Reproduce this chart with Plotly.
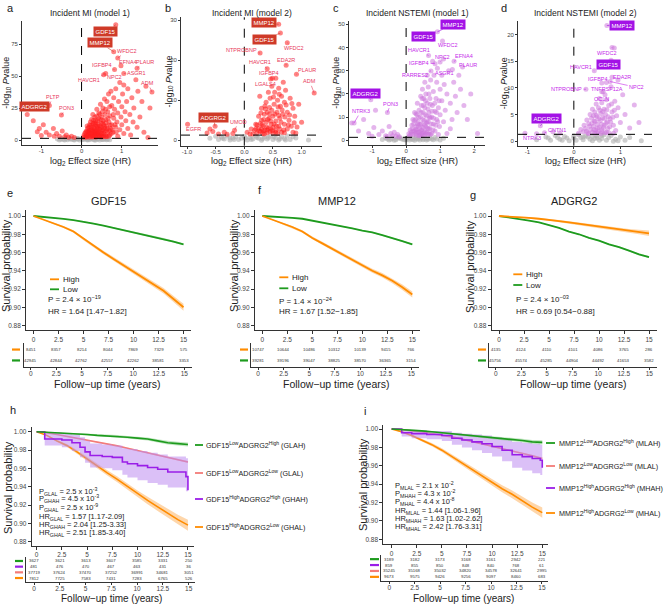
import plotly.graph_objects as go

FONT = "Liberation Sans, Arial, sans-serif"
W, H = 669, 604

# ======================= DATA =======================
# ---- Volcano a: Incident MI (model 1) ----
a_sig = [(0.05,2.2),(0.06,3.5),(0.08,5),(0.1,2.5),(0.12,4),(0.15,3),(0.15,9),(0.18,6),(0.2,2.2),(0.2,12),(0.22,8),(0.25,5),(0.25,16),(0.27,3.5),(0.28,20),(0.3,10),(0.3,2.8),(0.32,7),(0.33,18),(0.35,4.5),(0.35,12),(0.38,3),(0.38,24),(0.4,9),(0.4,15),(0.42,6),(0.43,21),(0.45,2.5),(0.45,11),(0.47,28),(0.48,4),(0.5,7),(0.5,18),(0.52,13),(0.53,25),(0.55,5),(0.55,3),(0.57,32),(0.58,9),(0.6,16),(0.6,2.5),(0.62,11),(0.63,30),(0.65,6),(0.65,22),(0.67,36),(0.68,14),(0.7,4),(0.7,19),(0.72,9),(0.73,38),(0.75,27),(0.75,12),(0.78,6),(0.8,17),(0.8,33),(0.82,24),(0.85,10),(0.85,40),(0.88,14),(0.9,21),(0.9,3),(0.92,30),(0.95,8),(0.95,45),(0.98,18),(1.0,26),(1.0,12),(1.02,36),(1.05,5),(1.05,43),(1.08,22),(1.1,15),(1.12,30),(1.15,9),(1.15,40),(1.2,20),(1.22,4),(1.25,33),(1.28,14),(1.3,25),(1.35,47),(1.38,10),(1.4,38),(1.45,18),(1.5,30),(1.55,6),(1.6,42),(1.65,2),(1.7,25),(0.15,6.5),(0.2,4.5),(0.25,10),(0.28,7),(0.3,13),(0.33,5.5),(0.37,8),(0.42,3.8),(0.45,8.5),(0.5,10),(0.5,2.3),(0.55,12),(0.35,2.1),(0.4,4.8),(0.62,7.5),(0.68,3),(0.27,2.4),(0.18,10),(0.12,7),(0.58,20),(0.48,16),(0.38,18.5),(0.3,15.5),(0.22,14),
         (0.1,6),(0.12,2.2),(0.14,11),(0.17,3.8),(0.19,7.5),(0.21,5.5),(0.23,2.9),(0.24,11.5),(0.26,8.5),(0.29,4.3),(0.31,5.8),(0.32,9),(0.34,13.5),(0.36,6.8),(0.37,10.5),(0.39,5.2),(0.41,7),(0.41,12.5),(0.43,16.5),(0.44,3.2),(0.46,5.8),(0.47,9.5),(0.49,13),(0.51,2.9),(0.51,5),(0.53,8),(0.54,15),(0.56,6.8),(0.57,10.5),(0.59,4.2),(0.61,13.5),(0.63,2.8),(0.64,9),(0.66,17),(0.69,7.5),(0.71,11.5),(0.74,5),(0.76,8),(0.79,20),(0.83,12),(0.86,6),(0.6,24),(0.7,26),(0.45,20),(0.52,22),(0.35,15),(0.28,12.5),(0.4,11),(0.25,7),(0.33,3.2),
         (-1.35,20),(-1.2,15),(-1.1,6.5),(-1.05,9),(-1.0,3.5),(-0.95,12),(-0.88,6),(-0.8,4),(-0.7,9),(-0.68,3),(-0.62,5),(-0.55,3),(-0.48,7),(-0.42,2.5),(-0.38,4),(-0.32,2.2),(-0.25,3),(-0.18,2)]
a_ns = [(-0.6,0.8),(-0.5,1.1),(-0.45,0.4),(-0.4,0.9),(-0.35,0.2),(-0.3,1.2),(-0.25,0.6),(-0.2,0.3),(-0.15,1.0),(-0.1,0.5),(-0.05,0.1),(0,0.7),(0.05,0.3),(0.1,1.1),(0.15,0.5),(0.2,0.2),(0.25,0.9),(0.3,0.4),(0.35,1.2),(0.4,0.6),(0.45,0.1),(0.5,0.8),(0.55,0.3),(0.6,1.0),(0.65,0.5),(-0.55,0.1),(0.7,0.2),(-0.1,1.2),(0.15,0.05),(0.35,0.05),
        (-0.52,0.5),(-0.42,0.1),(-0.28,0.8),(-0.18,0.0),(-0.08,0.9),(0.02,0.3),(0.12,0.6),(0.22,1.0),(0.32,0.1),(0.42,0.9),(0.52,0.4),(0.62,0.2)]
a_lab = [("GDF15",0.85,90),("MMP12",0.8,69),("WFDC2",0.9,64),("EFNA4",0.98,58),("PLAUR",1.38,56),("ASGR1",1.05,52),("ADM",1.75,37.5),("IGFBP4",0.82,55),("NPC2",0.6,52),("HAVCR1",0.55,51),("ADGRG2",-0.88,25),("PLTP",-0.8,27),("PON3",-0.5,19.5)]

# ---- Volcano b: Incident MI (model 2) ----
b_sig = [(0.15,1.6),(0.18,2.5),(0.2,4),(0.22,1.8),(0.25,3),(0.25,6),(0.28,2.2),(0.3,5),(0.3,8),(0.32,1.7),(0.33,3.5),(0.35,6.5),(0.36,2.5),(0.38,4.5),(0.38,9.5),(0.4,1.9),(0.4,7),(0.42,3),(0.43,5.5),(0.45,2.2),(0.45,10.5),(0.47,4),(0.48,7.5),(0.5,1.8),(0.5,3.2),(0.5,6),(0.52,9),(0.53,12),(0.55,2.5),(0.55,4.8),(0.57,7),(0.58,10),(0.6,3.5),(0.6,13),(0.62,5.5),(0.63,8.5),(0.65,2),(0.65,11),(0.67,6.5),(0.7,4),(0.7,9.5),(0.72,12.5),(0.75,2.8),(0.75,7),(0.78,5),(0.8,10.5),(0.82,3.5),(0.85,8),(0.88,6),(0.9,1.8),(0.95,9),(1.0,4.5),(0.12,2.8),(0.1,1.6),(0.05,2),(0.27,11),(0.42,12),(0.35,1.6),(0.58,1.7),(0.68,14.5),(0.55,15.5),(0.48,13.5),(0.85,2),(0.92,3.3),(0.2,2.9),(0.28,4.2),(0.33,2.4),(0.37,7.8),(0.44,6.6),(0.52,4.1),(0.6,6.2),(0.46,2.8),
         (0.22,3.8),(0.26,2.3),(0.29,6.8),(0.31,3.9),(0.34,5.2),(0.36,8.6),(0.39,3.3),(0.41,5.2),(0.44,8.2),(0.46,4.8),(0.49,2.4),(0.51,10.8),(0.53,6.6),(0.56,3.6),(0.59,8.3),(0.61,11.5),(0.64,4.5),(0.66,7.6),(0.69,2.6),(0.71,5.8),(0.73,8.8),(0.77,3.8),(0.79,6.3),(0.83,9.2),(0.87,4.4),(0.4,2.6),(0.3,2.8),(0.55,2),(0.62,2.8),(0.7,1.9),
         (-0.65,1.8),(-0.55,2.2),(-0.45,1.6),(-0.35,2.0),(-0.3,1.5),(-0.6,2.8),(-0.2,1.7)]
b_ns = [(-0.6,0.5),(-0.5,1.0),(-0.45,0.2),(-0.4,0.8),(-0.35,0.3),(-0.3,1.1),(-0.25,0.1),(-0.2,0.6),(-0.15,0.9),(-0.1,0.2),(-0.05,0.5),(0,1.0),(0.05,0.1),(0.1,0.7),(0.15,0.3),(0.2,1.1),(0.25,0.5),(0.3,0.0),(0.35,0.8),(0.4,0.3),(0.45,1.0),(0.5,0.2),(0.55,0.6),(0.6,0.1),(0.65,0.9),(0.7,0.4),(0.8,0.2),(0.9,0.6),(1.12,0.1),(-0.25,0.6),(0.75,1.1),
        (-0.38,0.5),(-0.18,0.2),(0.02,0.6),(0.12,0.2),(0.22,0.7),(0.32,0.4),(0.42,0.7),(0.52,0.9),(0.62,0.4),(0.72,0.1),(0.85,0.9)]
b_lab = [("MMP12",0.6,29),("GDF15",0.63,26.8),("WFDC2",0.75,24.4),("NTPROBNP",0.275,21.8),("HAVCR1",0.4,17.9),("EDA2R",0.73,18.75),("PLAUR",0.91,16.5),("IGFBP4",0.49,15.5),("ADM",1.22,11.8),("LGALS4",0.46,15.3),("ADGRG2",-0.51,3.5),("EGFR",-0.99,4.0),("UMOD",-0.17,2.5)]

# ---- Volcano c: Incident NSTEMI (model 1) ----
c_sig = [(0.1,2),(0.15,3.5),(0.18,5),(0.2,2.5),(0.22,7),(0.25,4),(0.28,9),(0.3,2.2),(0.3,6),(0.32,11),(0.35,3.5),(0.35,8),(0.38,13),(0.4,5),(0.4,2.5),(0.42,10),(0.45,7),(0.45,15),(0.47,3),(0.5,12),(0.5,5.5),(0.52,18),(0.53,8.5),(0.55,2.3),(0.55,14),(0.58,6),(0.58,20),(0.6,10.5),(0.6,3.5),(0.62,16),(0.65,8),(0.65,23),(0.67,12),(0.7,5),(0.7,18),(0.72,2.5),(0.72,26),(0.75,10),(0.77,15),(0.8,7),(0.8,21),(0.82,28),(0.85,12.5),(0.85,4),(0.88,18),(0.9,9),(0.9,25),(0.92,31),(0.95,14),(0.98,6),(1.0,22),(1.0,11),(1.05,17),(1.05,28),(1.1,8),(1.12,24),(1.15,13),(1.2,20),(1.2,3),(1.25,30),(1.3,16),(1.35,9),(1.4,25),(1.45,19),(1.5,12),(1.55,28),(1.6,22),(1.7,15),(1.8,9),(2.1,3),(1.9,20),(0.12,4.5),(0.25,12),(0.33,16),(0.43,19),(0.48,22),(0.55,25),(0.62,28),(0.08,2.8),(0.2,9),(0.38,2),(0.5,2.1),(0.68,3),(1.3,5),(0.95,2.5),(1.1,35),(0.78,34),(0.28,4.8),(0.36,6.2),(0.44,4.2),(0.52,3.4),(0.6,7.4),(0.7,9.6),(0.42,2.2),(0.63,5.2),
         (0.14,2.6),(0.17,6.5),(0.21,4),(0.24,8.5),(0.27,2.9),(0.29,11.5),(0.31,4.5),(0.34,7),(0.37,9.8),(0.39,3.6),(0.41,6.8),(0.44,12),(0.46,4.6),(0.49,9),(0.51,15),(0.54,6.5),(0.56,11),(0.59,3),(0.61,8),(0.64,13.5),(0.66,5),(0.69,10),(0.71,15.5),(0.74,7),(0.76,12.5),(0.79,4.5),(0.81,9.5),(0.84,16),(0.87,6.5),(0.89,12),(0.93,8),(0.97,17),(0.47,18),(0.57,17),(0.67,20),(0.3,3.5),(0.45,2.7),(0.55,4),(0.65,2.6),(0.75,3),
         (-1.6,7.5),(-1.4,4),(-1.25,9),(-1.1,3),(-0.95,5.5),(-0.8,2.5),(-0.7,4),(-0.6,2),(-0.5,6),(-0.45,3),(-0.4,2),(-0.35,3.5),(-0.3,1.8),(-0.25,2.5),(-0.2,1.6),(-0.55,1.7),(-1.0,1.8),(-0.9,13)]
c_ns = [(-0.7,0.4),(-0.6,1.0),(-0.5,0.2),(-0.4,0.8),(-0.3,0.3),(-0.2,1.1),(-0.1,0.5),(0,0.1),(0.1,0.9),(0.2,0.4),(0.3,1.2),(0.4,0.2),(0.5,0.7),(0.6,0.1),(0.7,1.0),(0.8,0.3),(0.9,0.6),(1.0,0.2),(1.1,0.9),(-0.55,0.6),(-0.35,0.05),(-0.15,0.7),(0.05,1.2),(0.25,0.0),(0.45,1.1),(0.65,0.5),(0.85,1.2),(-0.05,0.3),(0.15,0.6),(0.35,0.6),
        (-0.45,0.5),(-0.25,0.9),(0.0,0.8),(0.1,0.2),(0.2,1.0),(0.3,0.6),(0.4,0.9),(0.5,0.3),(0.6,0.8),(0.75,0.6)]
c_lab = [("MMP12",0.92,46.7),("GDF15",0.76,43.4),("WFDC2",1.07,42.8),("HAVCR1",0.66,36.5),("NPC2",1.0,33.7),("EFNA4",1.41,34),("IGFBP4",0.85,33),("PLAUR",1.66,31.6),("RARRES2",0.73,29.9),("ASGR1",1.36,30.5),("ADGRG2",-1.04,17.5),("NTRK3",-1.53,7.5),("PON3",-0.55,12)]

# ---- Volcano d: Incident NSTEMI (model 2) ----
d_sig = [(0.1,1.5),(0.15,2.2),(0.2,1.8),(0.22,3),(0.25,2.4),(0.28,4),(0.3,1.6),(0.32,3.3),(0.35,5),(0.36,2.2),(0.38,4.3),(0.4,1.7),(0.4,6),(0.42,2.8),(0.44,3.8),(0.45,5.5),(0.47,2.1),(0.48,7),(0.5,3.2),(0.5,4.6),(0.52,1.8),(0.53,6.3),(0.55,2.6),(0.55,8),(0.57,3.9),(0.58,5.2),(0.6,2.2),(0.6,7.2),(0.62,4.4),(0.63,9.3),(0.65,3),(0.65,6),(0.67,1.6),(0.68,5),(0.7,7.8),(0.72,3.6),(0.73,2.4),(0.75,6.7),(0.78,4.2),(0.8,10.2),(0.82,5.5),(0.85,3),(0.88,7.5),(0.9,2),(0.92,4.8),(0.95,6.3),(1.0,3.5),(1.05,8.7),(1.1,5),(1.2,2.5),(1.3,6.8),(1.4,3.5),(0.32,1.4),(0.45,1.5),(0.58,1.4),(0.75,1.6),(0.85,1.5),(0.7,11),(0.95,11.5),(0.87,17.5),
         (0.27,1.9),(0.34,2.8),(0.39,3.4),(0.43,2.2),(0.46,3.7),(0.51,2.5),(0.54,4.2),(0.56,5.8),(0.59,3.2),(0.62,5.6),(0.64,2.6),(0.66,4.2),(0.69,3.4),(0.71,5.9),(0.74,4.6),(0.77,2.7),(0.79,3.6),(0.81,7),(0.84,4.5),(0.87,5.8),(0.6,1.8),(0.5,1.6),(0.7,1.7),(0.48,4.9),(0.42,4.8),
         (-0.45,1.8),(-0.3,1.5),(-0.8,1.4)]
d_ns = [(-0.8,0.3),(-0.6,0.8),(-0.5,0.2),(-0.4,1.1),(-0.3,0.4),(-0.2,0.9),(-0.1,0.1),(0,0.6),(0.1,1.2),(0.2,0.3),(0.3,0.8),(0.4,0.1),(0.5,1.0),(0.6,0.5),(0.7,0.2),(0.8,1.1),(0.9,0.4),(1.0,0.8),(1.1,0.2),(1.2,0.7),(1.45,0.1),(-0.15,0.6),(0.05,0.2),(0.25,1.0),(0.45,0.5),(0.65,1.2),(0.85,0.0),(-0.35,0.7),(0.15,0.7),(0.55,0.2),
        (-0.55,0.6),(-0.25,0.2),(0.0,1.0),(0.2,0.8),(0.35,0.4),(0.5,0.6),(0.6,1.1),(0.75,0.7),(0.95,0.1),(0.4,0.9)]
d_lab = [("MMP12",0.71,21.7),("WFDC2",0.82,17.6),("GDF15",0.8,15.2),("HAVCR1",0.44,13.2),("EDA2R",0.82,12),("IGFBP4",0.6,10.9),("NPC2",0.78,11.2),("TNFRSF12A",0.6,9.3),("NTPROBNP",0.26,9.75),("OCLN",0.67,8.7),("ADGRG2",-0.72,2.9),("CNTN1",-0.63,1.6),("NTRK3",-1.05,1.5)]

# label text placement (layout only)
a_pos = {"GDF15":(0.6,85),"MMP12":(0.45,76),"WFDC2":(1.12,69.5),"EFNA4":(1.15,61),"PLAUR":(1.57,61),"ASGR1":(1.37,52),"ADM":(1.65,44.5),"IGFBP4":(0.5,58.6),"NPC2":(0.82,49.6),"HAVCR1":(0.18,47),"ADGRG2":(-1.18,26),"PLTP":(-0.72,33.6),"PON3":(-0.38,25)}
b_pos = {"MMP12":(0.35,29.4),"GDF15":(0.35,25.3),"WFDC2":(0.86,23),"NTPROBNP":(-0.05,22.7),"HAVCR1":(0.27,19.5),"EDA2R":(0.72,20.2),"PLAUR":(1.1,17.7),"IGFBP4":(0.43,16.8),"ADM":(1.14,14.75),"LGALS4":(0.37,14.2),"ADGRG2":(-0.54,5.7),"EGFR":(-0.89,2.9),"UMOD":(-0.1,4.6)}
c_pos = {"MMP12":(1.38,50),"GDF15":(0.5,44.8),"WFDC2":(1.22,41.2),"HAVCR1":(0.38,38.8),"NPC2":(1.07,35.9),"EFNA4":(1.7,36.3),"IGFBP4":(0.38,33.5),"PLAUR":(1.83,32.3),"RARRES2":(0.26,28.1),"ASGR1":(1.12,29),"ADGRG2":(-1.2,20.1),"NTRK3":(-1.33,12.6),"PON3":(-0.45,15.8)}
d_pos = {"MMP12":(1.03,21.7),"WFDC2":(0.71,16.6),"GDF15":(0.75,14.3),"HAVCR1":(0.16,14),"EDA2R":(1.03,12.1),"IGFBP4":(0.53,11.7),"NPC2":(1.35,10.1),"TNFRSF12A":(0.71,9.75),"NTPROBNP":(-0.15,9.75),"OCLN":(0.59,7.9),"ADGRG2":(-0.58,4.2),"CNTN1":(-0.37,2.1),"NTRK3":(-0.9,0.56)}
boxed = ["GDF15", "MMP12", "ADGRG2"]

# ---- Survival data ----
T = list(range(16))
e_high = [1,0.996,0.992,0.988,0.983,0.975,0.967,0.960,0.953,0.946,0.939,0.932,0.925,0.918,0.909,0.900]
e_high_ci = [0,0.0007,0.001,0.0012,0.0014,0.0016,0.0018,0.002,0.0021,0.0022,0.0023,0.0025,0.0027,0.003,0.0033,0.0038]
e_low = [1,0.9992,0.998,0.9968,0.9955,0.994,0.9918,0.9895,0.987,0.9845,0.982,0.98,0.9775,0.975,0.972,0.969]
e_low_ci = [0,0.0002,0.0003,0.0004,0.0004,0.0005,0.0005,0.0006,0.0006,0.0007,0.0007,0.0007,0.0008,0.0008,0.0009,0.0010]
f_high = [1,0.996,0.992,0.988,0.983,0.976,0.970,0.964,0.958,0.952,0.946,0.940,0.935,0.929,0.922,0.914]
f_high_ci = [0,0.0006,0.0009,0.0011,0.0013,0.0015,0.0017,0.0018,0.002,0.0021,0.0022,0.0023,0.0025,0.0027,0.003,0.0034]
f_low = [1,0.9995,0.999,0.998,0.997,0.995,0.993,0.991,0.989,0.9865,0.984,0.982,0.979,0.976,0.9725,0.969]
f_low_ci = [0,0.0002,0.0003,0.0004,0.0004,0.0005,0.0005,0.0006,0.0006,0.0007,0.0007,0.0007,0.0008,0.0008,0.0009,0.0010]
g_high = [1,0.9995,0.999,0.998,0.997,0.996,0.9945,0.993,0.9915,0.990,0.988,0.9865,0.985,0.9835,0.9825,0.981]
g_high_ci = [0,0.0004,0.0006,0.0008,0.0009,0.001,0.0012,0.0013,0.0014,0.0015,0.0016,0.0018,0.002,0.0022,0.0025,0.003]
g_low = [1,0.9985,0.997,0.995,0.993,0.990,0.987,0.983,0.980,0.976,0.973,0.969,0.966,0.962,0.958,0.955]
g_low_ci = [0,0.0002,0.0003,0.0004,0.0005,0.0005,0.0006,0.0006,0.0007,0.0007,0.0008,0.0008,0.0009,0.0009,0.001,0.0011]

h_glah = [1,0.9995,0.999,0.998,0.9975,0.997,0.996,0.9955,0.995,0.994,0.993,0.992,0.990,0.988,0.987,0.986]
h_glah_ci = [0,0.0004,0.0006,0.0008,0.0009,0.001,0.0011,0.0012,0.0013,0.0014,0.0015,0.0016,0.0018,0.002,0.0021,0.0022]
h_glal = [1,0.999,0.997,0.995,0.993,0.991,0.989,0.987,0.9845,0.982,0.9795,0.977,0.9745,0.972,0.9695,0.967]
h_glal_ci = [0,0.0002,0.0003,0.0004,0.0005,0.0005,0.0006,0.0006,0.0007,0.0007,0.0008,0.0008,0.0009,0.0009,0.001,0.0011]
h_ghal = [1,0.996,0.990,0.985,0.978,0.970,0.962,0.955,0.948,0.940,0.932,0.925,0.918,0.911,0.904,0.898]
h_ghal_ci = [0,0.0008,0.0013,0.0017,0.002,0.0023,0.0026,0.0029,0.0032,0.0035,0.0038,0.0041,0.0044,0.0048,0.0053,0.006]
h_ghah_t = [0,0.8,2.5,3.5,4.3,4.8,5.3,6.5,7.5,8.5,9.0,10.0,11.0,12.0,13.0,14.8,15]
h_ghah = [1,0.992,0.991,0.988,0.983,0.978,0.974,0.973,0.972,0.967,0.965,0.963,0.961,0.959,0.956,0.951,0.936]
h_ghah_hi = [1,0.999,0.998,0.997,0.994,0.990,0.987,0.986,0.985,0.982,0.981,0.979,0.977,0.975,0.973,0.971,0.968]
h_ghah_lo = [1,0.985,0.983,0.979,0.972,0.966,0.961,0.960,0.958,0.953,0.950,0.947,0.944,0.942,0.939,0.935,0.900]

i_mlah = [1,0.9995,0.999,0.998,0.997,0.996,0.995,0.994,0.993,0.992,0.991,0.990,0.989,0.9875,0.986,0.9855]
i_mlah_ci = [0,0.0004,0.0006,0.0008,0.0009,0.001,0.0011,0.0012,0.0013,0.0014,0.0015,0.0016,0.0018,0.002,0.0021,0.0022]
i_mlal = [1,0.9995,0.998,0.997,0.995,0.9935,0.9915,0.989,0.9865,0.984,0.9815,0.979,0.9765,0.974,0.971,0.968]
i_mlal_ci = [0,0.0002,0.0003,0.0004,0.0005,0.0005,0.0006,0.0006,0.0007,0.0007,0.0008,0.0008,0.0009,0.0009,0.001,0.0011]
i_mhal = [1,0.997,0.993,0.988,0.983,0.977,0.970,0.963,0.956,0.949,0.942,0.935,0.929,0.922,0.915,0.909]
i_mhal_ci = [0,0.0007,0.0011,0.0015,0.0018,0.0021,0.0024,0.0027,0.003,0.0033,0.0036,0.0039,0.0042,0.0046,0.005,0.0055]
i_mhah_t = [0,1.0,2.0,3.5,5.0,6.0,7.0,8.0,9.0,10.0,11.0,12.0,13.0,14.0,14.8,15]
i_mhah = [1,0.996,0.995,0.994,0.993,0.990,0.988,0.986,0.984,0.981,0.977,0.972,0.970,0.968,0.966,0.958]
i_mhah_hi = [1,0.999,0.999,0.998,0.998,0.996,0.995,0.994,0.993,0.991,0.989,0.986,0.985,0.984,0.983,0.978]
i_mhah_lo = [1,0.992,0.990,0.989,0.987,0.983,0.980,0.977,0.974,0.970,0.965,0.958,0.955,0.952,0.950,0.937]

# ---- Numbers at risk ----
risk_t = [0, 2.5, 5, 7.5, 10, 12.5, 15]
e_risk_high = [8451, 8357, 8214, 8044, 7869, 7329, 575]
e_risk_low = [42945, 42844, 42762, 42557, 42262, 38581, 3353]
f_risk_high = [10747, 10644, 10486, 10312, 10139, 9415, 766]
f_risk_low = [39281, 39196, 39047, 38825, 38570, 36365, 3154]
g_risk_high = [4135, 4124, 4110, 4101, 4086, 3765, 286]
g_risk_low = [45756, 45574, 45285, 44904, 44492, 41653, 3582]
h_risk_glah = [3627, 3621, 3613, 3607, 3585, 3331, 250]
h_risk_ghah = [481, 476, 470, 467, 463, 431, 36]
h_risk_glal = [37719, 37624, 37470, 37252, 36991, 34681, 3051]
h_risk_ghal = [7812, 7725, 7583, 7431, 7283, 6765, 526]
i_risk_mlah = [3189, 3182, 3173, 3168, 3161, 2942, 221]
i_risk_mhah = [859, 855, 850, 848, 840, 768, 61]
i_risk_mlal = [35245, 35168, 35032, 34820, 34578, 32641, 2995]
i_risk_mhal = [9673, 9575, 9426, 9256, 9097, 8460, 683]

surv_ticks = [0.88, 0.90, 0.92, 0.94, 0.96, 0.98, 1.00]
time_ticks = [0, 2.5, 5, 7.5, 10, 12.5, 15]

# ======================= STYLE =======================
ORANGE = "#FF8C00"; ORANGE_F = "rgba(253,180,100,0.55)"
GREEN = "#1E9B1E"; GREEN_F = "rgba(120,200,120,0.45)"
SALMON = "#F37B78"; SALMON_F = "rgba(243,123,120,0.3)"
PURPLE = "#9A1EE8"; PURPLE_F = "rgba(190,140,240,0.55)"
RED_PT = "rgba(255,30,30,0.55)"; RED_TXT = "#E8385A"; RED_BOX = "#CF3A28"
VIO_PT = "rgba(205,120,220,0.55)"; VIO_TXT = "#C62AEA"; VIO_BOX = "#A312E6"
GREY_PT = "rgba(175,175,175,0.6)"
AX = "#333333"

fig = go.Figure()
L = dict(width=W, height=H, margin=dict(l=0, r=0, t=0, b=0), paper_bgcolor="white",
         plot_bgcolor="white", showlegend=False, font=dict(family=FONT, color="#222"))
ann = []
shp = []


def px(x):
    return x / W


def py(y):
    return 1 - y / H


def sfx(n):
    return "" if n == 1 else str(n)


def add_axes(n, xpx, ypx, xr, yr, xt=None, xtt=None, yt=None, ytt=None, yshow=True, tfs=6, tl=3, xstand=0):
    base = dict(showgrid=False, zeroline=False, showline=True, linecolor=AX, linewidth=0.8,
                ticks="outside", ticklen=tl, tickwidth=0.8, tickcolor=AX,
                tickfont=dict(size=tfs, color="#444", family=FONT), fixedrange=True)
    xa = dict(base, domain=[px(xpx[0]), px(xpx[1])], range=xr, anchor="y" + sfx(n))
    if xstand:
        xa["ticklabelstandoff"] = xstand
    if xt is not None:
        xa.update(tickmode="array", tickvals=xt, ticktext=xtt if xtt else [str(v) for v in xt])
    ya = dict(base, domain=[py(ypx[1]), py(ypx[0])], range=yr, anchor="x" + sfx(n))
    if yt is not None:
        ya.update(tickmode="array", tickvals=yt, ticktext=ytt if ytt else [str(v) for v in yt])
    if not yshow:
        ya.update(showticklabels=False, ticks="")
    L["xaxis" + sfx(n)] = xa
    L["yaxis" + sfx(n)] = ya


def text(xp, yp, s, size=8, color="#222", xanchor="center", angle=0):
    ann.append(dict(x=px(xp), y=py(yp), xref="paper", yref="paper", text=s, showarrow=False,
                    xanchor=xanchor, yanchor="middle", textangle=angle,
                    font=dict(size=size, color=color, family=FONT)))


# ======================= VOLCANO PANELS =======================
volc = [
    dict(n=1, sig=a_sig, ns=a_ns, lab=a_lab, pos=a_pos, xpx=(22, 158), ypx=(20.7, 145), xr=[-1.48, 1.9], yr=[-3.9, 93.2],
         xt=[-1, 0, 1], xtt=None, yt=[0, 25, 50, 75], title="Incident MI (model 1)", pt=RED_PT, tc=RED_TXT, bc=RED_BOX, letter="a", lx=5, ytx=7),
    dict(n=2, sig=b_sig, ns=b_ns, lab=b_lab, pos=b_pos, xpx=(181, 322), ypx=(17.3, 145.7), xr=[-1.105, 1.356], yr=[-1.35, 30.75],
         xt=[-1.0, -0.5, 0.0, 0.5, 1.0], xtt=["-1.0", "-0.5", "0.0", "0.5", "1.0"], yt=[0, 10, 20, 30], title="Incident MI (model 2)", pt=RED_PT, tc=RED_TXT, bc=RED_BOX, letter="b", lx=163, ytx=169),
    dict(n=3, sig=c_sig, ns=c_ns, lab=c_lab, pos=c_pos, xpx=(349, 485), ypx=(20.7, 145), xr=[-1.68, 2.32], yr=[-2.0, 51.5],
         xt=[-1, 0, 1, 2], xtt=None, yt=[0, 10, 20, 30, 40, 50], title="Incident NSTEMI (model 1)", pt=VIO_PT, tc=VIO_TXT, bc=VIO_BOX, letter="c", lx=331, ytx=337),
    dict(n=4, sig=d_sig, ns=d_ns, lab=d_lab, pos=d_pos, xpx=(518, 652), ypx=(20.7, 145.7), xr=[-1.2, 1.68], yr=[-0.83, 22.6],
         xt=[-1, 0, 1], xtt=None, yt=[0, 5, 10, 15, 20], title="Incident NSTEMI (model 2)", pt=VIO_PT, tc=VIO_TXT, bc=VIO_BOX, letter="d", lx=499, ytx=504),
]

for v in volc:
    n = v["n"]
    xr_, yr_ = "x" + sfx(n), "y" + sfx(n)
    add_axes(n, v["xpx"], v["ypx"], v["xr"], v["yr"], xt=v["xt"], xtt=v["xtt"], yt=v["yt"], tfs=6, tl=2, xstand=-2)
    fig.add_trace(go.Scatter(x=[p[0] for p in v["ns"]], y=[p[1] for p in v["ns"]], mode="markers",
                             marker=dict(size=5, color=GREY_PT, line=dict(width=0)), xaxis=xr_, yaxis=yr_, hoverinfo="skip"))
    fig.add_trace(go.Scatter(x=[p[0] for p in v["sig"]] + [p[1] for p in v["lab"]],
                             y=[p[1] for p in v["sig"]] + [p[2] for p in v["lab"]], mode="markers",
                             marker=dict(size=5, color=v["pt"], line=dict(width=0)), xaxis=xr_, yaxis=yr_, hoverinfo="skip"))
    # threshold lines
    shp.append(dict(type="line", xref=xr_ + " domain", yref=yr_, x0=0, x1=1, y0=1.3, y1=1.3,
                    line=dict(color="black", width=1, dash="dash")))
    shp.append(dict(type="line", xref=xr_, yref=yr_ + " domain", x0=0, x1=0, y0=0, y1=1,
                    line=dict(color="black", width=1, dash="dash")))
    for name, x0, y0 in v["lab"]:
        tx, ty = v["pos"][name]
        d = dict(x=x0, y=y0, ax=tx, ay=ty, xref=xr_, yref=yr_, axref=xr_, ayref=yr_, text=name,
                 showarrow=True, arrowhead=0, arrowwidth=0.6, arrowcolor=v["tc"], standoff=0, startstandoff=0)
        if name in boxed:
            d.update(font=dict(size=6, color="white", family=FONT), bgcolor=v["bc"], borderpad=1.5, arrowcolor=v["bc"])
        else:
            d.update(font=dict(size=5.5, color=v["tc"], family=FONT))
        ann.append(d)
    cx = (v["xpx"][0] + v["xpx"][1]) / 2
    text(cx, 13, v["title"], size=8.5)
    text(cx, 162, "log<sub>2</sub> Effect size (HR)", size=9)
    text(v["ytx"], (v["ypx"][0] + v["ypx"][1]) / 2, "-log<sub>10</sub> <i>P</i>value", size=9, angle=-90)
    text(v["lx"], 8, v["letter"], size=11, xanchor="left")


# ======================= SURVIVAL =======================
def band_line(n, t, s, lo, hi, color, fill, width=1.8, shape="linear"):
    xr_, yr_ = "x" + sfx(n), "y" + sfx(n)
    fig.add_trace(go.Scatter(x=t, y=hi, mode="lines", line=dict(width=0, shape=shape), xaxis=xr_, yaxis=yr_, hoverinfo="skip"))
    fig.add_trace(go.Scatter(x=t, y=lo, mode="lines", line=dict(width=0, shape=shape), fill="tonexty", fillcolor=fill,
                             xaxis=xr_, yaxis=yr_, hoverinfo="skip"))
    fig.add_trace(go.Scatter(x=t, y=s, mode="lines", line=dict(width=width, color=color, shape=shape),
                             xaxis=xr_, yaxis=yr_, hoverinfo="skip"))


def ci_curve(n, s, ci, color, fill, width=1.8):
    band_line(n, T, s, [a - b for a, b in zip(s, ci)], [a + b for a, b in zip(s, ci)], color, fill, width)


def surv_axes(n, xpx, ypx, yr, xr=(-0.75, 15.75)):
    add_axes(n, xpx, ypx, list(xr), yr, xt=time_ticks, yt=surv_ticks,
             ytt=["%.2f" % v for v in surv_ticks], tfs=6.5)


def risk_table(n, xpx, ypx, xr, rows, colors, seg_px):
    xr_, yr_ = "x" + sfx(n), "y" + sfx(n)
    k = len(rows)
    add_axes(n, xpx, ypx, xr, [0.4 if k == 2 else 0.3, k + (0.6 if k == 2 else 0.7)], xt=time_ticks, yshow=False,
             tfs=6.5, tl=2, xstand=-2)
    for i, (vals, col) in enumerate(zip(rows, colors)):
        yv = k - i
        for tv, nv in zip(risk_t, vals):
            ann.append(dict(x=tv, y=yv, xref=xr_, yref=yr_, text=str(nv), showarrow=False,
                            xanchor="center", yanchor="middle", font=dict(size=4.3, color="#333", family=FONT)))
        shp.append(dict(type="line", xref="paper", yref=yr_, x0=px(seg_px[0]), x1=px(seg_px[1]), y0=yv, y1=yv,
                        line=dict(color=col, width=2.2)))


SYR = [0.8751, 1.0066]
# ---- e ----
surv_axes(5, (26, 191), (210, 330), SYR)
ci_curve(5, e_low, e_low_ci, GREEN, GREEN_F)
ci_curve(5, e_high, e_high_ci, ORANGE, ORANGE_F)
risk_table(8, (24, 192), (343, 367), [-0.66, 15.75], [e_risk_high, e_risk_low], [ORANGE, GREEN], (12, 20))
# ---- f ----
surv_axes(6, (254.8, 419.8), (210, 330), SYR)
ci_curve(6, f_low, f_low_ci, GREEN, GREEN_F)
ci_curve(6, f_high, f_high_ci, ORANGE, ORANGE_F)
risk_table(9, (251, 419), (343, 367), [-0.7, 15.75], [f_risk_high, f_risk_low], [ORANGE, GREEN], (240, 248))
# ---- g ----
surv_axes(7, (491.5, 656.5), (210, 330), SYR)
ci_curve(7, g_low, g_low_ci, GREEN, GREEN_F)
ci_curve(7, g_high, g_high_ci, ORANGE, ORANGE_F)
risk_table(10, (489, 657), (343, 367), [-0.66, 15.75], [g_risk_high, g_risk_low], [ORANGE, GREEN], (478, 486))

for (x0, cx, ttl, letter, lx, ly, ytx, leg, ptxt, hrtxt) in [
    (26, 108.5, "GDF15", "e", 5, 193, 6, (50, 279.3, 289.3, 46, 299, 311), "P = 2.4 × 10<sup>−19</sup>", "HR = 1.64 [1.47−1.82]"),
    (254.8, 337, "MMP12", "f", 256, 190, 234, (279.3, 277.3, 288.3, 277, 301, 311), "P = 1.4 × 10<sup>−24</sup>", "HR = 1.67 [1.52−1.85]"),
    (491.5, 574, "ADGRG2", "g", 468, 195, 470, (513.3, 274.3, 285, 514, 299, 311), "P = 2.4 × 10<sup>−03</sup>", "HR = 0.69 [0.54−0.88]"),
]:
    text(cx, 201, ttl, size=11)
    text(lx, ly, letter, size=11, xanchor="left")
    text(ytx, 266, "Survival probability", size=11, angle=-90)
    text(cx - 1, 383.5, "Follow−up time (years)", size=10.5)
    lx0, yh, yl, tx, yp, yhr = leg
    shp.append(dict(type="line", xref="paper", yref="paper", x0=px(lx0), x1=px(lx0 + 9), y0=py(yh), y1=py(yh), line=dict(color=ORANGE, width=1.8)))
    shp.append(dict(type="line", xref="paper", yref="paper", x0=px(lx0), x1=px(lx0 + 9), y0=py(yl), y1=py(yl), line=dict(color=GREEN, width=1.8)))
    text(lx0 + 10.5, yh, "High", size=8, xanchor="left")
    text(lx0 + 10.5, yl, "Low", size=8, xanchor="left")
    text(tx, yp, ptxt, size=8, xanchor="left")
    text(tx, yhr, hrtxt, size=8, xanchor="left")

# ---- h ----
add_axes(11, (31.6, 194), (427.3, 545.7), [-0.5, 15.6], [0.8756, 1.0048], xt=time_ticks, yt=surv_ticks,
         ytt=["%.2f" % v for v in surv_ticks], tfs=6.5)
ci_curve(11, h_glal, h_glal_ci, SALMON, SALMON_F, 1.6)
ci_curve(11, h_ghal, h_ghal_ci, ORANGE, ORANGE_F, 1.6)
band_line(11, h_ghah_t, h_ghah, h_ghah_lo, h_ghah_hi, PURPLE, PURPLE_F, 1.6, shape="hv")
ci_curve(11, h_glah, h_glah_ci, GREEN, GREEN_F, 1.6)
risk_table(12, (26, 194.8), (557, 582), [-0.78, 15.6], [h_risk_glah, h_risk_ghah, h_risk_glal, h_risk_ghal],
           [GREEN, PURPLE, SALMON, ORANGE], (15, 23))
text(8, 410, "h", size=11, xanchor="left")
text(8, 488, "Survival probability", size=11, angle=-90)
text(111, 598.5, "Follow−up time (years)", size=10)
for yv, s in zip([491, 499, 507, 516.5, 524.5, 532.5],
                 ["P<sub>GLAL</sub> = 2.5 x 10<sup>-3</sup>", "P<sub>GHAH</sub> = 4.5 x 10<sup>-3</sup>",
                  "P<sub>GHAL</sub> = 2.5 x 10<sup>-9</sup>", "HR<sub>GLAL</sub> = 1.57 [1.17-2.09]",
                  "HR<sub>GHAH</sub> = 2.04 [1.25-3.33]", "HR<sub>GHAL</sub> = 2.51 [1.85-3.40]"]):
    text(37, yv, s, size=7.5, xanchor="left")
for yv, col, s in zip([445, 473, 499, 527], [GREEN, SALMON, PURPLE, ORANGE],
                      ["GDF15<sup>Low</sup>ADGRG2<sup>High</sup> (GLAH)", "GDF15<sup>Low</sup>ADGRG2<sup>Low</sup> (GLAL)",
                       "GDF15<sup>High</sup>ADGRG2<sup>High</sup> (GHAH)", "GDF15<sup>High</sup>ADGRG2<sup>Low</sup> (GHAL)"]):
    shp.append(dict(type="line", xref="paper", yref="paper", x0=px(195), x1=px(203), y0=py(yv), y1=py(yv), line=dict(color=col, width=1.8)))
    text(204, yv, s, size=7.2, xanchor="left")

# ---- i ----
add_axes(13, (383.3, 548.3), (425, 544), [-0.83, 15.6], [0.8749, 1.0044], xt=time_ticks, yt=surv_ticks,
         ytt=["%.2f" % v for v in surv_ticks], tfs=6.5)
ci_curve(13, i_mlal, i_mlal_ci, SALMON, SALMON_F, 1.6)
ci_curve(13, i_mhal, i_mhal_ci, ORANGE, ORANGE_F, 1.6)
band_line(13, i_mhah_t, i_mhah, i_mhah_lo, i_mhah_hi, PURPLE, PURPLE_F, 1.6, shape="hv")
ci_curve(13, i_mlah, i_mlah_ci, GREEN, GREEN_F, 1.6)
risk_table(14, (380.7, 548), (555, 581), [-0.84, 15.6], [i_risk_mlah, i_risk_mhah, i_risk_mlal, i_risk_mhal],
           [GREEN, PURPLE, SALMON, ORANGE], (370, 379))
text(362, 411, "i", size=11, xanchor="left")
text(363, 485, "Survival probability", size=11, angle=-90)
text(463, 598.5, "Follow−up time (years)", size=10)
for yv, s in zip([485, 493, 501, 510.5, 518.5, 526.5],
                 ["P<sub>MLAL</sub> = 2.1 x 10<sup>-2</sup>", "P<sub>MHAH</sub> = 4.3 x 10<sup>-2</sup>",
                  "P<sub>MHAL</sub> = 4.4 x 10<sup>-8</sup>", "HR<sub>MLAL</sub> = 1.44 [1.06-1.96]",
                  "HR<sub>MHAH</sub> = 1.63 [1.02-2.62]", "HR<sub>MHAL</sub> = 2.42 [1.76-3.31]"]):
    text(393, yv, s, size=7.5, xanchor="left")
for yv, col, s in zip([443, 466, 488, 513], [GREEN, SALMON, PURPLE, ORANGE],
                      ["MMP12<sup>Low</sup>ADGRG2<sup>High</sup> (MLAH)", "MMP12<sup>Low</sup>ADGRG2<sup>Low</sup> (MLAL)",
                       "MMP12<sup>High</sup>ADGRG2<sup>High</sup> (MHAH)", "MMP12<sup>High</sup>ADGRG2<sup>Low</sup> (MHAL)"]):
    shp.append(dict(type="line", xref="paper", yref="paper", x0=px(546), x1=px(555), y0=py(yv), y1=py(yv), line=dict(color=col, width=1.8)))
    text(557, yv, s, size=7.2, xanchor="left")

L["annotations"] = ann
L["shapes"] = shp
fig.update_layout(**L)
fig.write_html("out.html")
